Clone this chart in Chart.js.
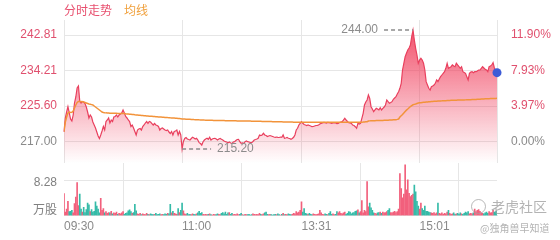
<!DOCTYPE html>
<html><head><meta charset="utf-8">
<script src="https://cdn.jsdelivr.net/npm/chart.js@4.4.0/dist/chart.umd.min.js"></script>
<style>
html,body{margin:0;padding:0;background:#fff;width:560px;height:240px;overflow:hidden;}
#wrap{position:relative;width:560px;height:240px;}
#pc{position:absolute;left:0;top:0;}
#vc{position:absolute;left:0;top:163px;}
.lg{position:absolute;top:3px;font-size:12px;line-height:14px;font-family:'Noto Sans CJK SC',sans-serif;}
.wm{position:absolute;font-family:'Noto Sans CJK SC',sans-serif;color:rgba(160,160,160,0.8);white-space:nowrap;}
.ico{position:absolute;left:471px;top:199px;width:13px;height:13px;border:1.5px solid rgba(160,160,160,0.75);border-radius:50%;}
</style></head>
<body><div id="wrap">
<canvas id="pc" width="560" height="163"></canvas>
<canvas id="vc" width="560" height="77"></canvas>
<div class="lg" style="left:64px;color:#e8506f;">分时走势</div>
<div class="lg" style="left:124px;color:#f0a03c;">均线</div>
<div class="ico"></div>
<div class="wm" style="left:491px;top:197px;font-size:14px;line-height:18px;">老虎社区</div>
<div class="wm" style="left:480px;top:221px;font-size:10px;line-height:14px;">@独角兽早知道</div>
</div>
<script>
const basePrice = 217.00;
const timeTickIdx = [0, 90, 181, 271, 330];
const timeTickLabels = ['09:30', '11:00', '13:31', '15:01', ''];
const priceTicks = [217.00, 225.60, 234.21, 242.81];
const pctTickLabels = ['0.00%', '3.97%', '7.93%', '11.90%'];
const volTicks = [1.8, 8.28];
const volTickLabels = ['万股', '8.28'];

const prices = [
219.38,222.70,224.15,225.44,223.91,222.45,221.97,223.42,226.33,227.79,
229.97,230.45,226.82,226.33,226.70,226.57,226.21,225.36,224.15,222.70,
223.42,222.94,221.73,221.00,220.27,219.30,218.33,217.73,218.58,219.55,
220.64,219.79,221.85,222.21,222.70,221.48,222.21,221.85,222.94,223.06,
223.42,222.94,223.42,223.67,223.91,224.64,223.91,223.06,222.70,222.21,
221.85,220.64,221.00,220.27,219.42,218.58,219.79,220.03,220.15,219.79,
220.64,221.00,221.48,221.85,221.36,221.85,221.73,221.36,221.00,221.36,
221.00,220.88,220.64,219.79,220.15,220.27,220.03,219.79,219.67,219.79,
219.30,218.94,219.42,218.58,219.42,219.55,219.79,218.58,219.42,218.58,
215.20,217.00,217.73,217.97,217.61,217.48,217.36,217.73,218.02,217.85,
217.61,217.78,217.36,216.71,216.52,216.15,216.95,217.36,217.61,217.78,
217.53,218.02,217.36,217.61,217.73,217.78,217.61,217.36,217.61,217.73,
217.53,217.36,217.12,216.95,216.88,216.71,216.88,216.64,216.56,216.88,
216.95,217.24,217.48,217.53,216.95,216.56,216.64,216.56,216.95,217.12,
216.95,216.88,216.76,216.71,217.00,217.36,217.48,217.61,217.78,218.58,
218.45,218.58,218.99,218.58,218.45,218.21,218.33,218.45,218.33,218.21,
218.09,218.02,218.09,218.02,217.97,218.09,218.02,218.58,217.78,217.85,
217.97,217.78,217.73,217.53,217.73,218.02,218.58,219.79,220.20,221.00,
221.41,221.80,221.41,221.12,221.00,220.88,221.00,220.88,220.76,220.59,
220.64,220.76,220.88,220.93,221.00,221.24,221.41,221.48,221.61,221.56,
221.48,221.61,221.56,221.48,221.41,221.48,221.56,221.48,221.36,221.41,
221.61,221.73,221.80,222.21,222.62,222.21,221.85,221.56,221.48,221.41,
221.00,220.88,220.59,220.20,221.41,221.24,221.41,222.62,223.84,225.85,
226.57,227.06,228.27,227.47,225.44,224.88,224.22,224.64,225.05,224.88,
224.64,225.19,224.64,225.05,225.36,225.85,227.06,226.65,226.26,226.45,
226.65,227.23,227.54,227.86,228.51,229.07,229.90,231.11,234.33,235.96,
237.56,238.38,239.18,239.66,240.39,242.40,244.00,241.60,239.59,237.97,
235.96,236.76,237.17,236.76,235.96,234.33,231.50,230.70,229.90,229.48,
230.28,230.45,230.70,231.11,231.91,231.50,232.15,232.71,233.12,233.53,
233.92,234.74,235.96,234.74,234.94,235.13,235.55,235.30,235.13,235.96,
235.55,235.18,234.74,235.13,233.92,233.73,233.53,232.71,231.91,233.53,
233.85,233.92,233.68,233.92,233.92,234.09,234.33,234.33,234.74,235.13,
234.82,234.50,234.33,233.92,235.13,235.30,235.55,236.10,234.82,233.92,233.68
];

const avgPrices = [
219.38,221.73,222.94,223.91,224.15,224.03,224.10,224.39,225.12,225.85,
226.45,226.70,226.70,226.70,226.65,226.57,226.45,226.33,226.21,226.09,
226.02,225.94,225.85,225.61,225.36,225.12,224.88,224.64,224.39,224.15,
224.03,223.98,223.94,223.91,223.88,223.84,223.84,223.83,223.83,223.82,
223.82,223.81,223.81,223.80,223.80,223.79,223.76,223.72,223.69,223.66,
223.62,223.59,223.55,223.52,223.48,223.45,223.42,223.39,223.36,223.33,
223.30,223.27,223.24,223.21,223.18,223.15,223.13,223.10,223.07,223.04,
223.01,222.99,222.96,222.94,222.92,222.89,222.87,222.84,222.82,222.79,
222.77,222.74,222.72,222.69,222.67,222.64,222.62,222.59,222.56,222.52,
222.48,222.46,222.44,222.42,222.40,222.39,222.37,222.35,222.33,222.31,
222.30,222.28,222.27,222.25,222.24,222.22,222.21,222.19,222.18,222.17,
222.15,222.14,222.13,222.13,222.12,222.11,222.11,222.10,222.09,222.09,
222.08,222.07,222.07,222.06,222.05,222.05,222.04,222.03,222.03,222.02,
222.01,222.01,222.00,221.99,221.99,221.98,221.97,221.97,221.96,221.96,
221.95,221.94,221.94,221.93,221.93,221.92,221.91,221.90,221.90,221.89,
221.88,221.87,221.86,221.86,221.85,221.84,221.83,221.83,221.82,221.81,
221.80,221.79,221.79,221.78,221.77,221.76,221.76,221.75,221.74,221.73,
221.73,221.72,221.71,221.71,221.70,221.69,221.69,221.68,221.68,221.68,
221.68,221.68,221.68,221.68,221.68,221.67,221.67,221.67,221.67,221.66,
221.66,221.66,221.66,221.66,221.66,221.66,221.66,221.66,221.66,221.66,
221.66,221.66,221.66,221.66,221.66,221.66,221.66,221.66,221.66,221.66,
221.66,221.66,221.67,221.67,221.67,221.67,221.67,221.67,221.67,221.67,
221.67,221.67,221.66,221.66,221.66,221.66,221.66,221.68,221.70,221.74,
221.77,221.80,221.96,222.00,222.03,222.04,222.05,222.06,222.07,222.08,
222.09,222.10,222.11,222.12,222.13,222.14,222.16,222.17,222.19,222.21,
222.23,222.25,222.27,222.30,222.36,222.45,222.94,223.25,223.54,223.92,
224.27,224.60,224.88,225.18,225.48,225.70,225.90,226.00,226.09,226.21,
226.33,226.38,226.42,226.46,226.50,226.53,226.56,226.59,226.62,226.65,
226.68,226.71,226.74,226.76,226.78,226.80,226.82,226.84,226.85,226.87,
226.89,226.90,226.92,226.94,226.96,226.97,226.98,227.00,227.01,227.02,
227.03,227.04,227.05,227.06,227.07,227.08,227.09,227.10,227.11,227.13,
227.14,227.16,227.17,227.19,227.20,227.22,227.24,227.26,227.28,227.30,
227.33,227.34,227.35,227.37,227.38,227.40,227.41,227.42,227.44,227.45,227.47
];

const volumes = [
5.1,0.8,1.5,3.3,0.9,1.0,1.2,0.6,2.8,4.3,
7.7,2.3,5.0,1.5,0.8,1.9,0.7,1.4,2.9,2.5,
0.9,1.4,0.8,1.0,3.2,2.2,1.5,0.6,4.0,1.2,
1.6,0.6,0.9,0.5,0.7,0.6,1.0,0.4,0.6,0.5,
0.8,0.3,0.5,0.4,0.6,0.9,0.3,0.5,0.6,1.1,
1.3,0.9,0.5,0.7,2.6,1.1,0.4,0.3,0.5,0.2,
0.4,0.3,0.2,0.5,0.3,0.2,0.4,0.3,0.2,0.3,
0.5,0.2,0.3,0.4,0.2,0.3,0.2,0.4,0.3,0.5,
0.4,2.6,0.6,1.0,0.5,0.4,0.3,1.6,0.7,1.2,
2.9,1.1,0.4,0.3,0.5,0.2,0.3,0.2,0.4,0.3,
0.2,0.4,0.6,1.0,0.5,0.7,0.3,0.2,0.3,0.2,
0.3,0.4,0.2,0.1,0.3,0.2,0.2,0.4,0.3,0.2,
0.5,0.7,0.4,0.8,0.3,0.6,0.7,0.3,0.5,0.2,
0.3,0.2,0.4,0.2,0.3,0.5,0.2,0.1,0.3,0.2,
0.2,0.3,0.1,0.2,0.4,0.3,0.2,0.3,0.2,0.5,
0.3,0.2,0.4,0.6,0.8,0.3,0.2,0.3,0.2,0.1,
0.2,0.3,0.2,0.4,0.2,0.1,0.3,0.5,0.2,0.3,
0.2,0.4,0.3,0.2,0.3,0.5,0.4,0.9,0.6,0.8,
1.2,3.2,0.8,1.6,0.5,0.4,0.3,0.5,0.3,0.2,
0.4,0.3,0.2,0.3,0.4,1.2,0.6,0.3,0.2,0.4,
0.3,0.2,0.5,0.9,0.3,0.4,0.2,0.3,0.9,0.6,
0.9,0.5,0.4,0.6,0.8,0.3,0.5,0.9,0.8,0.4,
0.6,0.7,1.0,1.1,1.3,0.6,0.9,3.5,0.6,1.2,
0.9,7.9,2.0,2.9,1.8,1.2,0.6,0.5,0.4,0.6,
0.7,0.8,0.5,0.8,0.6,0.7,0.9,1.2,1.6,0.7,
0.6,0.8,1.0,0.7,0.9,1.5,9.8,6.3,4.1,5.0,
11.8,6.0,8.3,5.2,4.4,4.7,5.0,7.1,5.5,3.3,
2.2,1.5,2.9,1.6,1.2,2.2,1.0,1.0,0.8,0.7,
0.6,0.5,0.7,0.4,0.6,2.9,0.5,0.4,0.6,0.3,
0.5,0.4,0.8,1.2,0.5,0.3,0.4,0.6,0.3,0.4,
0.5,0.3,0.6,0.4,0.3,0.5,0.8,0.6,0.9,0.4,
0.5,0.4,0.6,1.5,0.9,1.2,1.4,1.0,0.6,0.5,
0.4,0.6,0.8,0.5,0.9,0.6,0.7,1.2,0.8,0.9,1.1
];

const FONT = "'Liberation Sans', 'Noto Sans CJK SC', sans-serif";
const UP = '#e0506e', GRAY = '#8a8a8a', GRID = '#e6e6e6';
const RED_BAR = '#f2607c', TEAL_BAR = '#35bba8';

const upColor = v => v > basePrice + 0.001 ? UP : GRAY;

const extremaPlugin = {
  id: 'extrema',
  afterDatasetsDraw(chart) {
    const { ctx, scales } = chart;
    const x = scales.x, y = scales.y;
    let hi = 0, lo = 0;
    prices.forEach((p, i) => { if (p > prices[hi]) hi = i; if (p < prices[lo]) lo = i; });
    ctx.save();
    ctx.strokeStyle = '#8c8c8c';
    ctx.lineWidth = 1.5;
    ctx.setLineDash([4, 3]);
    const hx = x.getPixelForValue(hi), hy = y.getPixelForValue(prices[hi]);
    const lx = x.getPixelForValue(lo), ly = y.getPixelForValue(prices[lo]);
    ctx.beginPath(); ctx.moveTo(hx - 29, hy); ctx.lineTo(hx, hy); ctx.stroke();
    ctx.beginPath(); ctx.moveTo(lx, ly); ctx.lineTo(lx + 29, ly); ctx.stroke();
    ctx.setLineDash([]);
    ctx.fillStyle = '#8c8c8c';
    ctx.font = '12px ' + FONT;
    ctx.textBaseline = 'middle';
    ctx.textAlign = 'right';
    ctx.fillText(prices[hi].toFixed(2), hx - 35, hy);
    ctx.textAlign = 'left';
    ctx.fillText(prices[lo].toFixed(2), lx + 35, ly);
    ctx.restore();
  }
};

const setTicks = vals => s => { s.ticks = vals.map(v => ({ value: v })); };
const fixW = w => s => { s.width = w; s.paddingTop = 0; s.paddingBottom = 0; };
const fixH = h => s => { s.height = h; s.paddingLeft = 0; s.paddingRight = 0; };

new Chart(document.getElementById('pc'), {
  type: 'line',
  data: {
    datasets: [
      {
        label: '分时走势',
        data: prices.map((p, i) => ({ x: i, y: p })),
        borderColor: '#e9405e',
        borderWidth: 1.2,
        tension: 0,
        fill: 'start',
        clip: false,
        backgroundColor: (c) => {
          const a = c.chart.chartArea;
          if (!a) return 'rgba(240,60,90,0.3)';
          const g = c.chart.ctx.createLinearGradient(0, a.top, 0, a.bottom);
          g.addColorStop(0, 'rgba(240,60,90,0.95)');
          g.addColorStop(1, 'rgba(240,60,90,0)');
          return g;
        },
        pointRadius: (c) => c.dataIndex === prices.length - 1 ? 4.5 : 0,
        pointBackgroundColor: '#3d5bd6',
        pointBorderWidth: 0,
        order: 2
      },
      {
        label: '均线',
        data: avgPrices.map((p, i) => ({ x: i, y: p })),
        borderColor: '#f2933a',
        borderWidth: 1.5,
        tension: 0,
        fill: false,
        pointRadius: 0,
        order: 1
      }
    ]
  },
  options: {
    responsive: false,
    animation: false,
    events: [],
    layout: { autoPadding: false, padding: { top: 20, left: 0, right: 0, bottom: 0 } },
    plugins: { legend: { display: false }, tooltip: { enabled: false } },
    scales: {
      x: {
        type: 'linear', min: 0, max: 330,
        afterBuildTicks: setTicks(timeTickIdx),
        ticks: { display: false },
        grid: { color: GRID, drawTicks: false },
        border: { display: false },
        afterFit: fixH(0)
      },
      y: {
        position: 'left', min: 211.79, max: 246.45,
        afterBuildTicks: setTicks(priceTicks),
        ticks: {
          padding: 7,
          font: { size: 12, family: FONT },
          color: c => upColor(c.tick.value),
          callback: v => Number(v).toFixed(2)
        },
        grid: { color: GRID, drawTicks: false },
        border: { display: false },
        afterFit: fixW(64)
      },
      y2: {
        position: 'right', min: 211.79, max: 246.45,
        afterBuildTicks: setTicks(priceTicks),
        ticks: {
          padding: 6,
          font: { size: 12, family: FONT },
          color: c => upColor(c.tick.value),
          callback: (v, i) => pctTickLabels[i]
        },
        grid: { display: false },
        border: { display: false },
        afterFit: fixW(63)
      }
    }
  },
  plugins: [extremaPlugin]
});

const barColors = volumes.map((v, i) => {
  const prev = i === 0 ? basePrice : prices[i - 1];
  return prices[i] >= prev ? RED_BAR : TEAL_BAR;
});

new Chart(document.getElementById('vc'), {
  type: 'bar',
  data: {
    datasets: [{
      data: volumes.map((v, i) => ({ x: i, y: v })),
      backgroundColor: barColors,
      barThickness: 1,
      borderWidth: 0
    }]
  },
  options: {
    responsive: false,
    animation: false,
    events: [],
    layout: { autoPadding: false, padding: { top: 0, left: 0, right: 63, bottom: 0 } },
    plugins: { legend: { display: false }, tooltip: { enabled: false } },
    scales: {
      x: {
        type: 'linear', min: 0, max: 330, offset: false,
        afterBuildTicks: setTicks(timeTickIdx),
        ticks: {
          align: 'start', padding: 4, maxRotation: 0, autoSkip: false,
          color: GRAY, font: { size: 12, family: FONT },
          callback: v => timeTickLabels[timeTickIdx.indexOf(v)]
        },
        grid: { color: GRID, drawTicks: false },
        border: { display: true, color: GRID },
        afterFit: fixH(24.5)
      },
      y: {
        min: 0, max: 12.25,
        afterBuildTicks: setTicks(volTicks),
        ticks: {
          padding: 7, labelOffset: 3,
          color: '#808080', font: { size: 12, family: FONT },
          callback: (v, i) => volTickLabels[i]
        },
        grid: { color: c => c.index === 1 ? GRID : 'rgba(0,0,0,0)', drawTicks: false },
        border: { display: false },
        afterFit: fixW(64)
      }
    }
  }
});
</script>
</body></html>
